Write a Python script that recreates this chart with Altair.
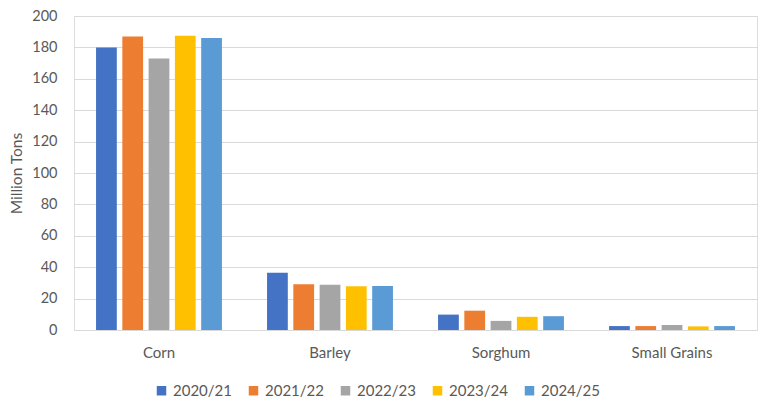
import pandas as pd
import altair as alt

# Crop categories and marketing years
crops = ["Corn", "Barley", "Sorghum", "Small Grains"]
years = ["2020/21", "2021/22", "2022/23", "2023/24", "2024/25"]

# Million tons, one list per year (same order as crops)
y2020 = [180, 36.5, 9.8, 2.5]
y2021 = [187, 29.2, 12.3, 2.5]
y2022 = [173, 28.8, 5.8, 3.2]
y2023 = [187.5, 27.8, 8.4, 2.3]
y2024 = [186, 28.0, 8.8, 2.5]

colors = ["#4472C4", "#ED7D31", "#A5A5A5", "#FFC000", "#5B9BD5"]

rows = []
for yr, vals in zip(years, [y2020, y2021, y2022, y2023, y2024]):
    for crop, v in zip(crops, vals):
        rows.append({"crop": crop, "year": yr, "tons": v})
df = pd.DataFrame(rows)

font = "Lato"
grey_text = "#595959"

chart = (
    alt.Chart(df)
    .mark_bar()
    .encode(
        x=alt.X(
            "crop:N",
            sort=crops,
            title=None,
            scale=alt.Scale(paddingInner=0.23, paddingOuter=0.112),
            axis=alt.Axis(
                labelAngle=0,
                labelFontSize=15,
                labelColor=grey_text,
                labelFont=font,
                labelPadding=15,
                ticks=False,
                domainColor="#D9D9D9",
            ),
        ),
        xOffset=alt.XOffset(
            "year:N",
            sort=years,
            scale=alt.Scale(paddingInner=0.21, paddingOuter=0.11),
        ),
        y=alt.Y(
            "tons:Q",
            title="Million Tons",
            scale=alt.Scale(domain=[0, 200], nice=False),
            axis=alt.Axis(
                values=list(range(0, 201, 20)),
                labelFontSize=14.5,
                labelColor=grey_text,
                labelFont=font,
                labelPadding=17,
                ticks=False,
                domain=False,
                gridColor="#D9D9D9",
                titleFontSize=15.5,
                titleFont=font,
                titleColor=grey_text,
                titleFontWeight="normal",
                titlePadding=7,
            ),
        ),
        color=alt.Color(
            "year:N",
            sort=years,
            scale=alt.Scale(domain=years, range=colors),
            legend=alt.Legend(
                title=None,
                orient="none",
                legendX=80,
                legendY=367,
                direction="horizontal",
                symbolType="square",
                symbolSize=90,
                symbolStrokeWidth=0,
                labelFontSize=15,
                labelFont=font,
                labelColor=grey_text,
                labelOffset=4,
                columnPadding=14,
            ),
        ),
    )
    .properties(
        width=683,
        height=314,
        autosize=alt.AutoSizeParams(type="none"),
        padding={"left": 66, "top": 8, "right": 10, "bottom": 70},
    )
    .configure_view(stroke=None)
    .configure(background="white")
)

chart.save("out.html", embed_options={"renderer": "svg", "actions": False})
